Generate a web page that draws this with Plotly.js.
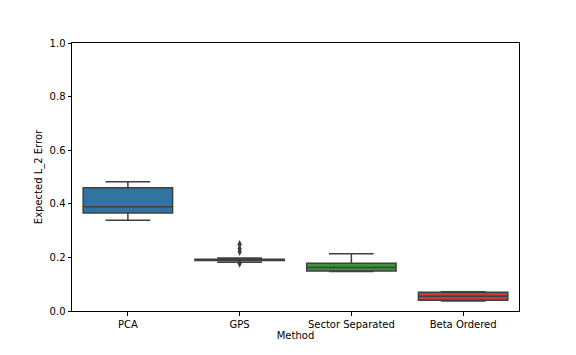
<!DOCTYPE html>
<html>
<head>
<meta charset="utf-8">
<script src="https://cdn.plot.ly/plotly-3.0.1.min.js"></script>
<style>
  body { margin: 0; background: #fff; }
  #chart { width: 576px; height: 355px; }
</style>
</head>
<body>
<div id="chart"></div>
<script>
// boxplot summary
const methods = ['PCA', 'GPS', 'Sector Separated', 'Beta Ordered'];
const lowerFence = [0.339, 0.182, 0.147, 0.037];
const q1 = [0.366, 0.188, 0.149, 0.040];
const medians = [0.389, 0.190, 0.162, 0.055];
const q3 = [0.460, 0.193, 0.178, 0.070];
const upperFence = [0.482, 0.198, 0.214, 0.072];
const boxColors = ['#3274a1', '#e1812c', '#3a923a', '#c03d3e'];

// outliers (only GPS has any)
const outlierMethod = ['GPS', 'GPS', 'GPS', 'GPS'];
const outlierValues = [0.177, 0.221, 0.232, 0.249];

const lineGray = '#3f3f3f';

const data = methods.map((m, i) => ({
  type: 'box',
  x: [m],
  q1: [q1[i]],
  median: [medians[i]],
  q3: [q3[i]],
  lowerfence: [lowerFence[i]],
  upperfence: [upperFence[i]],
  fillcolor: boxColors[i],
  line: { color: lineGray, width: 1.5 },
  width: 0.8,
  whiskerwidth: 0.5,
  boxpoints: false,
  hoverinfo: 'skip',
  showlegend: false
}));

data.push({
  type: 'scatter',
  mode: 'markers',
  x: outlierMethod,
  y: outlierValues,
  marker: { symbol: 'diamond-tall', size: 6, color: lineGray },
  hoverinfo: 'skip',
  showlegend: false
});

const layout = {
  width: 576,
  height: 355,
  margin: { l: 72, r: 57, t: 43, b: 44 },
  paper_bgcolor: '#fff',
  plot_bgcolor: '#fff',
  font: { family: 'DejaVu Sans', size: 10, color: '#000' },
  boxmode: 'overlay',
  xaxis: {
    type: 'category',
    categoryorder: 'array',
    categoryarray: methods,
    range: [-0.5, 3.5],
    showgrid: false,
    zeroline: false,
    showline: true,
    mirror: true,
    linecolor: '#000',
    linewidth: 1,
    ticks: 'outside',
    ticklen: 3.5,
    tickcolor: '#000',
    title: { text: 'Method', standoff: 3, font: { size: 10 } }
  },
  yaxis: {
    range: [0, 1],
    dtick: 0.2,
    tickformat: '.1f',
    showgrid: false,
    zeroline: false,
    showline: true,
    mirror: true,
    linecolor: '#000',
    linewidth: 1,
    ticks: 'outside',
    ticklen: 3.5,
    tickcolor: '#000',
    title: { text: 'Expected L_2 Error', standoff: 5, font: { size: 10 } }
  }
};

Plotly.newPlot('chart', data, layout, { displayModeBar: false, staticPlot: true });
</script>
</body>
</html>
